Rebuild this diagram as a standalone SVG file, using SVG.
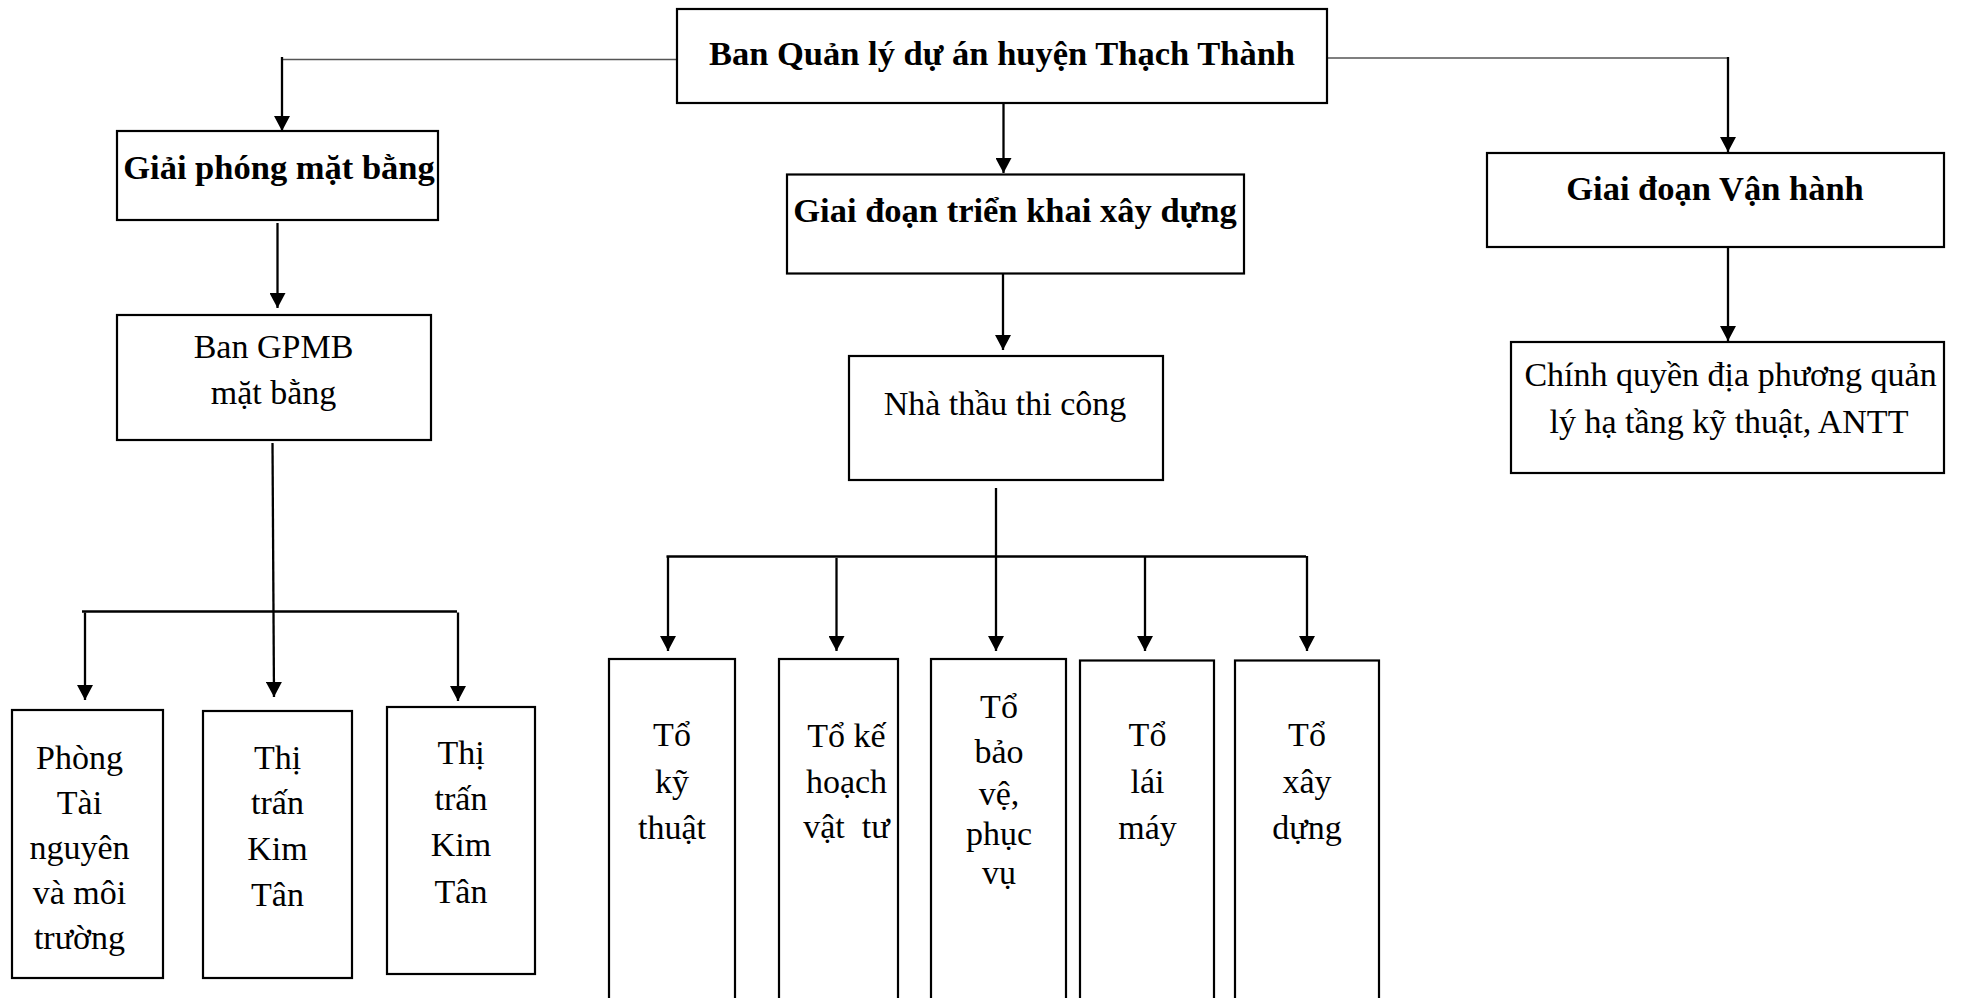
<svg xmlns="http://www.w3.org/2000/svg" width="1961" height="998" viewBox="0 0 1961 998">
<style>
.box{fill:#fff;stroke:#000;stroke-width:2.2}
.t{font-family:"Liberation Serif","Times New Roman",serif;font-size:34px;fill:#000;text-anchor:middle}
.b{font-weight:bold;font-size:34.5px}
.c{stroke:#000;stroke-width:2.3;fill:none}
.h{stroke:#555;stroke-width:1.4;fill:none}
.a{marker-end:url(#arr)}
</style>
<defs>
<marker id="arr" markerUnits="userSpaceOnUse" markerWidth="16" markerHeight="16" refX="15" refY="8" orient="auto">
<path d="M0,0 L15,8 L0,16 z" fill="#000"/>
</marker>
</defs>
<rect width="1961" height="998" fill="#fff"/>
<g id="connectors">
<path class="h" d="M282,59.5 H677"/>
<path class="c a" d="M282,57 V131"/>
<path class="h" d="M1327,58 H1728"/>
<path class="c a" d="M1728,57 V152"/>
<path class="c a" d="M1003.5,103 V173"/>
<path class="c a" d="M277.5,223 V308"/>
<path class="c a" d="M1003,274 V350"/>
<path class="c a" d="M1728,247 V341"/>
<path class="c a" d="M272.5,443 L274,697"/>
<path class="c" d="M82,611.5 H457"/>
<path class="c a" d="M85,612.5 V700"/>
<path class="c a" d="M458,612.5 V701"/>
<path class="c a" d="M996,488 V651"/>
<path class="c" d="M666.5,556.5 H1306"/>
<path class="c a" d="M668,556 V651"/>
<path class="c a" d="M836.5,558 V651"/>
<path class="c a" d="M1145,556 V651"/>
<path class="c a" d="M1307,556 V651"/>
</g>
<g id="top">
<rect class="box" x="677" y="9" width="650" height="94"/>
<text class="t b" x="1002" y="65">Ban Quản lý dự án huyện Thạch Thành</text>
</g>
<g id="gpmb">
<rect class="box" x="117" y="131" width="321" height="89"/>
<text class="t b" x="279" y="179">Giải phóng mặt bằng</text>
</g>
<g id="bangpmb">
<rect class="box" x="117" y="315" width="314" height="125"/>
<text class="t" x="273.5" y="358">Ban GPMB</text>
<text class="t" x="273.5" y="403.5">mặt bằng</text>
</g>
<g id="phong">
<rect class="box" x="12" y="710" width="151" height="268"/>
<text class="t" x="79.5" y="769">Phòng</text>
<text class="t" x="79.5" y="814">Tài</text>
<text class="t" x="79.5" y="859">nguyên</text>
<text class="t" x="79.5" y="904">và môi</text>
<text class="t" x="79.5" y="949">trường</text>
</g>
<g id="thitran1">
<rect class="box" x="203" y="711" width="149" height="267"/>
<text class="t" x="277.5" y="769">Thị</text>
<text class="t" x="277.5" y="814">trấn</text>
<text class="t" x="277.5" y="860">Kim</text>
<text class="t" x="277.5" y="906">Tân</text>
</g>
<g id="thitran2">
<rect class="box" x="387" y="707" width="148" height="267"/>
<text class="t" x="461" y="764">Thị</text>
<text class="t" x="461" y="810">trấn</text>
<text class="t" x="461" y="856">Kim</text>
<text class="t" x="461" y="903">Tân</text>
</g>
<g id="trienkhai">
<rect class="box" x="787" y="174.5" width="457" height="99"/>
<text class="t b" x="1015" y="222">Giai đoạn triển khai xây dựng</text>
</g>
<g id="nhathau">
<rect class="box" x="849" y="356" width="314" height="124"/>
<text class="t" x="1005" y="415">Nhà thầu thi công</text>
</g>
<g id="tokythuat">
<rect class="box" x="609" y="659" width="126" height="360"/>
<text class="t" x="672" y="746">Tổ</text>
<text class="t" x="672" y="793">kỹ</text>
<text class="t" x="672" y="838.5">thuật</text>
</g>
<g id="tokehoach">
<rect class="box" x="779" y="659" width="119" height="360"/>
<text class="t" x="846.5" y="747">Tổ kế</text>
<text class="t" x="846.5" y="793">hoạch</text>
<text class="t" x="846.5" y="838" xml:space="preserve">vật  tư</text>
</g>
<g id="tobaove">
<rect class="box" x="931" y="659" width="135" height="360"/>
<text class="t" x="999" y="718">Tổ</text>
<text class="t" x="999" y="763">bảo</text>
<text class="t" x="999" y="805">vệ,</text>
<text class="t" x="999" y="845">phục</text>
<text class="t" x="999" y="884">vụ</text>
</g>
<g id="tolaimay">
<rect class="box" x="1080" y="660.5" width="134" height="360"/>
<text class="t" x="1147.5" y="746">Tổ</text>
<text class="t" x="1147.5" y="793">lái</text>
<text class="t" x="1147.5" y="838.5">máy</text>
</g>
<g id="toxaydung">
<rect class="box" x="1235" y="660.5" width="144" height="360"/>
<text class="t" x="1307" y="746">Tổ</text>
<text class="t" x="1307" y="793">xây</text>
<text class="t" x="1307" y="838.5">dựng</text>
</g>
<g id="vanhanh">
<rect class="box" x="1487" y="153" width="457" height="94"/>
<text class="t b" x="1715" y="200">Giai đoạn Vận hành</text>
</g>
<g id="chinhquyen">
<rect class="box" x="1511" y="342" width="433" height="131"/>
<text class="t" x="1730.5" y="386">Chính quyền địa phương quản</text>
<text class="t" x="1729" y="433">lý hạ tầng kỹ thuật, ANTT</text>
</g>
</svg>
